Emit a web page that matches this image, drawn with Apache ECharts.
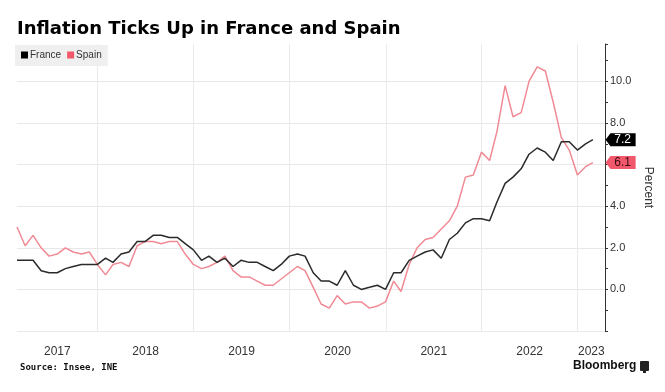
<!DOCTYPE html>
<html>
<head>
<meta charset="utf-8">
<script src="https://cdn.jsdelivr.net/npm/echarts@6/dist/echarts.min.js"></script>
<style>html,body{margin:0;padding:0;background:#fff}#c{width:665px;height:392px}</style>
</head>
<body>
<div id="c"></div>
<script>
// Months (values are plotted at month end)
const months = [
  '2017-02','2017-03','2017-04','2017-05','2017-06','2017-07','2017-08','2017-09','2017-10','2017-11','2017-12',
  '2018-01','2018-02','2018-03','2018-04','2018-05','2018-06','2018-07','2018-08','2018-09','2018-10','2018-11','2018-12',
  '2019-01','2019-02','2019-03','2019-04','2019-05','2019-06','2019-07','2019-08','2019-09','2019-10','2019-11','2019-12',
  '2020-01','2020-02','2020-03','2020-04','2020-05','2020-06','2020-07','2020-08','2020-09','2020-10','2020-11','2020-12',
  '2021-01','2021-02','2021-03','2021-04','2021-05','2021-06','2021-07','2021-08','2021-09','2021-10','2021-11','2021-12',
  '2022-01','2022-02','2022-03','2022-04','2022-05','2022-06','2022-07','2022-08','2022-09','2022-10','2022-11','2022-12',
  '2023-01','2023-02'
];
const france = [
  1.4,1.4,1.4,0.9,0.8,0.8,1.0,1.1,1.2,1.2,1.2,
  1.5,1.3,1.7,1.8,2.3,2.3,2.6,2.6,2.5,2.5,2.2,1.9,
  1.4,1.6,1.3,1.5,1.1,1.4,1.3,1.3,1.1,0.9,1.2,1.6,
  1.7,1.6,0.8,0.4,0.4,0.2,0.9,0.2,0.0,0.1,0.2,0.0,
  0.8,0.8,1.4,1.6,1.8,1.9,1.5,2.4,2.7,3.2,3.4,3.4,
  3.3,4.2,5.1,5.4,5.8,6.5,6.8,6.6,6.2,7.1,7.1,6.7,
  7.0,7.2
];
const spain = [
  3.0,2.1,2.6,2.0,1.6,1.7,2.0,1.8,1.7,1.8,1.2,
  0.7,1.2,1.3,1.1,2.1,2.3,2.3,2.2,2.3,2.3,1.7,1.2,
  1.0,1.1,1.3,1.6,0.9,0.6,0.6,0.4,0.2,0.2,0.5,0.8,
  1.1,0.9,0.1,-0.7,-0.9,-0.3,-0.7,-0.6,-0.6,-0.9,-0.8,-0.6,
  0.4,-0.1,1.2,2.0,2.4,2.5,2.9,3.3,4.0,5.4,5.5,6.6,
  6.2,7.6,9.8,8.3,8.5,10.0,10.7,10.5,9.0,7.3,6.7,5.5,
  5.9,6.1
];
const years = [2017, 2018, 2019, 2020, 2021, 2022, 2023];
const yTicks = [0, 2, 4, 6, 8, 10];

const FR_COLOR = '#2a2a2a';
const ES_COLOR = '#f08a94';
const ES_TAG = '#f2586b';

function monthEnd(s) {
  const [y, m] = s.split('-').map(Number);
  return new Date(y, m, 0).getTime();
}
const xs = months.map(monthEnd);
const xMin = xs[0];
const xMax = new Date(2023, 3, 15).getTime();
const yearStarts = years.slice(1).map(y => new Date(y, 0, 1).getTime());
const labelPos = years.map(y => {
  const a = Math.max(new Date(y, 0, 1).getTime(), xMin);
  const b = Math.min(new Date(y + 1, 0, 1).getTime(), xMax);
  return (a + b) / 2;
});

const frData = xs.map((x, i) => [x, france[i]]);
const esData = xs.map((x, i) => [x, spain[i]]);
const tagPath = 'path://M0,6 L5,0 L31,0 L31,12 L5,12 Z';

const chart = echarts.init(document.getElementById('c'), null, {renderer: 'canvas'});
chart.setOption({
  animation: false,
  backgroundColor: '#fff',
  textStyle: {fontFamily: 'Liberation Sans'},
  title: {
    text: 'Inflation Ticks Up in France and Spain',
    left: 17, top: 20, padding: 0,
    textStyle: {fontSize: 18, fontWeight: 'bold', color: '#000', fontFamily: 'DejaVu Sans'}
  },
  legend: {
    left: 15, top: 45,
    backgroundColor: '#efefef',
    padding: [5, 6, 6, 6],
    itemWidth: 7, itemHeight: 7, itemGap: 6,
    icon: 'rect',
    textStyle: {fontSize: 10, color: '#333', padding: [0, 0, 0, -3]},
    data: ['France', 'Spain']
  },
  grid: {left: 17, right: 60, top: 44, bottom: 61, containLabel: false},
  xAxis: {
    type: 'value',
    min: xMin, max: xMax,
    axisLine: {show: false},
    axisTick: {show: false, customValues: yearStarts},
    splitLine: {show: true, lineStyle: {color: '#ebebeb', width: 1}},
    axisLabel: {
      customValues: labelPos,
      formatter: v => String(new Date(v).getFullYear()),
      fontSize: 12, color: '#333', margin: 15
    }
  },
  yAxis: {
    type: 'value',
    position: 'right',
    min: -2, max: 11.8, interval: 2,
    name: 'Percent',
    nameLocation: 'middle',
    nameRotate: -90,
    nameGap: 28,
    nameTextStyle: {fontSize: 12, color: '#333'},
    axisLine: {show: true, lineStyle: {color: '#333', width: 1}},
    axisTick: {show: true, length: 3, lineStyle: {color: '#333'}},
    minorTick: {show: true, splitNumber: 2, length: 3, lineStyle: {color: '#333'}},
    splitLine: {show: true, showMaxLine: false, lineStyle: {color: '#e8e8e8', width: 1}},
    axisLabel: {
      fontSize: 11, color: '#333', margin: 5,
      formatter: v => yTicks.includes(v) ? v.toFixed(1) : ''
    }
  },
  series: [
    {
      name: 'France', type: 'line', data: frData, showSymbol: false, symbol: 'none',
      itemStyle: {color: '#000'},
      lineStyle: {color: FR_COLOR, width: 1.5},
      z: 3,
      markPoint: {
        symbol: tagPath, symbolSize: [30, 13], symbolOffset: ['52%', 0],
        itemStyle: {color: '#000'},
        label: {show: true, color: '#fff', fontSize: 12, offset: [2, 0], formatter: p => p.value.toFixed(1)},
        data: [{coord: [xMax, france[france.length - 1]], value: france[france.length - 1]}]
      }
    },
    {
      name: 'Spain', type: 'line', data: esData, showSymbol: false, symbol: 'none',
      itemStyle: {color: ES_TAG},
      lineStyle: {color: ES_COLOR, width: 1.5},
      z: 2,
      markPoint: {
        symbol: tagPath, symbolSize: [30, 13], symbolOffset: ['52%', 0],
        itemStyle: {color: ES_TAG},
        label: {show: true, color: '#3a0a10', fontSize: 12, offset: [2, 0], formatter: p => p.value.toFixed(1)},
        data: [{coord: [xMax, spain[spain.length - 1]], value: spain[spain.length - 1]}]
      }
    }
  ],
  graphic: [
    {type: 'text', left: 20, top: 363, style: {text: 'Source: Insee, INE', font: 'bold 9px "DejaVu Sans Mono"', fill: '#111'}},
    {type: 'text', left: 573, top: 360, style: {text: 'Bloomberg', font: 'bold 12px "Liberation Sans"', fill: '#111'}},
    {type: 'group', left: 640, top: 361, children: [
      {type: 'rect', shape: {x: 0, y: 0, width: 9, height: 10, r: 1}, style: {fill: '#222'}},
      {type: 'rect', shape: {x: 3, y: 10, width: 3, height: 2}, style: {fill: '#222'}}
    ]}
  ]
});
</script>
</body>
</html>
